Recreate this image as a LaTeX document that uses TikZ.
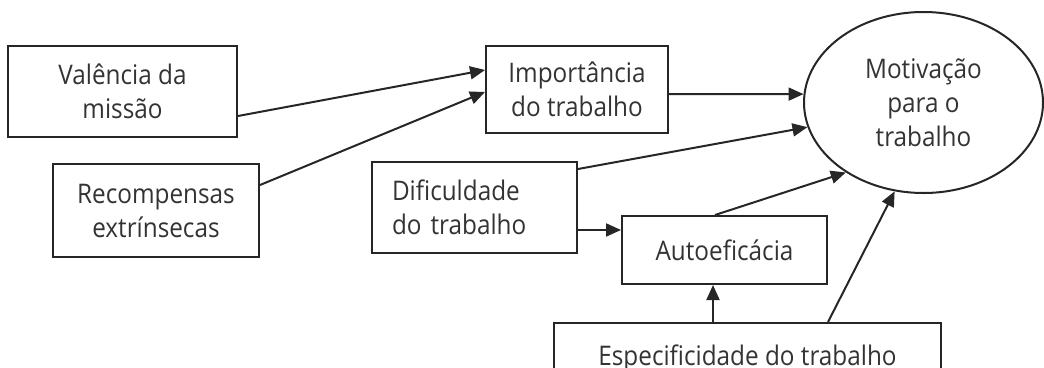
\documentclass[tikz,border=0pt]{standalone}
\usepackage{fontspec}
\setmainfont[FakeStretch=0.9]{Open Sans}
\usetikzlibrary{arrows.meta,shapes.geometric,calc}
\definecolor{ink}{HTML}{262626}
\definecolor{txt}{HTML}{333333}
\begin{document}
\begin{tikzpicture}[x=1pt,y=-1pt,
  box/.style={draw=ink,line width=2pt,rectangle,inner sep=0pt,align=center,text=txt,
    font=\fontsize{27}{34}\selectfont},
  arr/.style={draw=ink,line width=2pt,-{Triangle[length=15pt,width=13pt]}},
  ln/.style={draw=ink,line width=2pt}]
\useasboundingbox (0,0) rectangle (1044,367);
\node[box,minimum width=229pt,minimum height=91pt] (val) at (122.5,91.5) {Valência da\\missão};
\node[box,minimum width=206pt,minimum height=93pt] (rec) at (156,210.5) {Recompensas\\extrínsecas};
\node[box,minimum width=182pt,minimum height=87pt] (imp) at (577,89.5) {Importância\\do trabalho};
\node[box,minimum width=205pt,minimum height=91pt,text width=165pt,align=left] (dif) at (474.5,207.5) {Dificuldade\\do trabalho};
\node[box,minimum width=205pt,minimum height=68pt] (auto) at (724.5,250) {Autoeficácia};
\node[box,minimum width=387pt,text height=42pt,text depth=22pt,anchor=north] (esp) at (747.5,322) {Especificidade do trabalho};
\node[box,ellipse,minimum width=239pt,minimum height=181pt] (ell) at (923.5,102.5) {Motivação\\para o\\trabalho};
\draw[arr] ([yshift=-24.5pt]val.east) -- ([yshift=19.5pt]imp.west);
\draw[arr] ([yshift=25.5pt]rec.east) -- ([yshift=-2.5pt]imp.west);
\draw[arr] ([yshift=-4.5pt]imp.east) -- (ell.176);
\draw[arr] ([yshift=-8pt]dif.north east) -- (ell.192);
\draw[arr] ([yshift=-22.5pt]dif.east) -- ([yshift=-22.5pt]dif.east -| auto.west);
\draw[arr] ([xshift=-9.5pt]auto.north) -- (ell.222.7);
\draw[arr] ([xshift=-34.5pt]esp.north) -- ([xshift=-34.5pt]esp.north |- auto.south);
\draw[arr] ([xshift=80.5pt]esp.north) -- (ell.252);
\end{tikzpicture}
\end{document}
